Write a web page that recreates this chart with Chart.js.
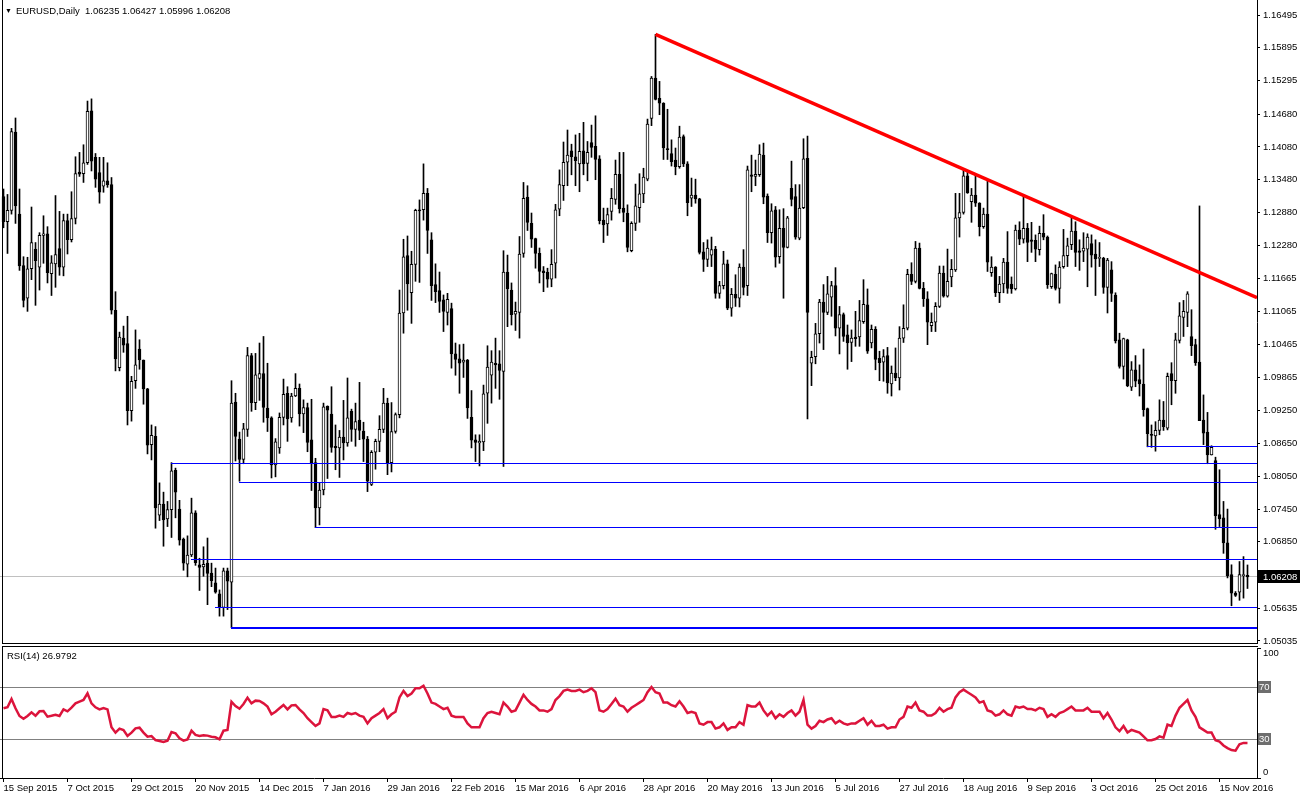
<!DOCTYPE html>
<html>
<head>
<meta charset="utf-8">
<script src="https://cdn.jsdelivr.net/npm/chart.js@4.4.0/dist/chart.umd.min.js"></script>
<style>
  body { margin: 0; background: #fff; width: 1300px; height: 800px; overflow: hidden; position: relative; }
  #mainBox { position: absolute; left: 0; top: 0; width: 1300px; height: 644px; }
  #rsiBox { position: absolute; left: 0; top: 645px; width: 1300px; height: 155px; }
  .label { position: absolute; font-family: 'Liberation Sans', Arial, sans-serif; font-size: 9.5px; color: #000; white-space: pre; }
  #title { left: 5px; top: 5px; }
  #title .tri { font-size: 7px; margin-right: 4px; position: relative; top: -1px; }
  #rsiTitle { left: 7px; top: 650px; }
</style>
</head>
<body>
<div id="mainBox"><canvas id="priceChart" width="1300" height="644"></canvas></div>
<div id="rsiBox"><canvas id="rsiChart" width="1300" height="155"></canvas></div>
<div id="title" class="label"><span class="tri">&#9660;</span>EURUSD,Daily  1.06235 1.06427 1.05996 1.06208</div>
<div id="rsiTitle" class="label">RSI(14) 26.9792</div>
<script>
// Daily EURUSD candles, 15 Sep 2015 .. 24 Nov 2016 (bar index = position)
const opens = [
  1.1317, 1.1271, 1.1292, 1.1435, 1.1285, 1.1191, 1.1131, 1.1185, 1.1221, 1.1188,
  1.1246, 1.1249, 1.1176, 1.1194, 1.1222, 1.1188, 1.1273, 1.1238, 1.1277, 1.1362,
  1.1359, 1.1379, 1.1474, 1.1389, 1.1361, 1.1336, 1.1346, 1.1339, 1.1109, 1.1004,
  1.1058, 1.1048, 1.0925, 1.0980, 1.1038, 1.1018, 1.0965, 1.0863, 1.0878, 1.0734,
  1.0754, 1.0727, 1.0744, 1.0816, 1.0745, 1.0690, 1.0644, 1.0661, 1.0738, 1.0643,
  1.0639, 1.0646, 1.0628, 1.0610, 1.0590, 1.0565, 1.0632, 1.0611, 1.0941, 1.0873,
  1.0836, 1.0891, 1.1026, 1.0940, 1.0984, 1.0993, 1.0930, 1.0912, 1.0826, 1.0857,
  1.0913, 1.0957, 1.0912, 1.0952, 1.0966, 1.0919, 1.0931, 1.0872, 1.0830, 1.0747,
  1.0780, 1.0933, 1.0919, 1.0860, 1.0857, 1.0877, 1.0866, 1.0924, 1.0891, 1.0908,
  1.0888, 1.0873, 1.0790, 1.0849, 1.0869, 1.0891, 1.0939, 1.0830, 1.0887, 1.0918,
  1.1104, 1.1209, 1.1141, 1.1193, 1.1293, 1.1293, 1.1323, 1.1238, 1.1156, 1.1145,
  1.1128, 1.1105, 1.1112, 1.1029, 1.1020, 1.1014, 1.1018, 1.0913, 1.0872, 1.0866,
  1.0868, 1.0957, 1.0990, 1.1012, 1.1011, 1.0997, 1.1179, 1.1146, 1.1102, 1.1105,
  1.1213, 1.1316, 1.1268, 1.1240, 1.1213, 1.1181, 1.1179, 1.1166, 1.1195, 1.1294,
  1.1337, 1.1380, 1.1401, 1.1390, 1.1377, 1.1401, 1.1378, 1.1416, 1.1409, 1.1386,
  1.1274, 1.1267, 1.1290, 1.1312, 1.1358, 1.1296, 1.1287, 1.1218, 1.1268, 1.1297,
  1.1322, 1.1349, 1.1460, 1.1534, 1.1497, 1.1488, 1.1404, 1.1396, 1.1384, 1.1372,
  1.1427, 1.1377, 1.1314, 1.1320, 1.1313, 1.1216, 1.1202, 1.1210, 1.1221, 1.1140,
  1.1154, 1.1194, 1.1113, 1.1138, 1.1131, 1.1188, 1.1154, 1.1357, 1.1354, 1.1357,
  1.1393, 1.1318, 1.1251, 1.1293, 1.1207, 1.1259, 1.1224, 1.1332, 1.1317, 1.1241,
  1.1297, 1.1387, 1.1012, 1.1024, 1.1066, 1.1124, 1.1105, 1.1133, 1.1154, 1.1076,
  1.1101, 1.1064, 1.1050, 1.1060, 1.1060, 1.1088, 1.1119, 1.1049, 1.1074, 1.1021,
  1.1014, 1.1026, 1.0974, 1.0994, 1.0985, 1.1058, 1.1076, 1.1175, 1.1162, 1.1223,
  1.1149, 1.1130, 1.1081, 1.1087, 1.1116, 1.1177, 1.1135, 1.1170, 1.1183, 1.1278,
  1.1288, 1.1355, 1.1308, 1.1320, 1.1305, 1.1262, 1.1285, 1.1178, 1.1188, 1.1141,
  1.1157, 1.1197, 1.1157, 1.1148, 1.1256, 1.1239, 1.1259, 1.1238, 1.1237, 1.1220,
  1.1250, 1.1243, 1.1152, 1.1175, 1.1149, 1.1189, 1.1209, 1.1229, 1.1254, 1.1218,
  1.1217, 1.1221, 1.1231, 1.1212, 1.1204, 1.1204, 1.1151, 1.1183, 1.1137, 1.1055,
  1.1006, 1.1055, 1.0968, 1.1000, 1.0982, 1.0974, 1.0929, 1.0881, 1.0879, 1.0889,
  1.0908, 1.0893, 1.0993, 1.0980, 1.1054, 1.1096, 1.1105, 1.1061, 1.1046, 1.1014,
  1.0908, 1.0886, 1.0844, 1.0834, 1.0735, 1.0729, 1.0683, 1.0625, 1.0591, 1.0593,
  1.0623, 1.06235
];
const highs = [
  1.1331, 1.1321, 1.1442, 1.1461, 1.1331, 1.1207, 1.1206, 1.1298, 1.1233, 1.1251,
  1.1282, 1.1262, 1.1209, 1.1319, 1.1290, 1.1285, 1.1285, 1.1326, 1.1390, 1.1398,
  1.1412, 1.1492, 1.1496, 1.1396, 1.1389, 1.1389, 1.1379, 1.1352, 1.1143, 1.1069,
  1.1080, 1.1098, 1.0988, 1.1073, 1.1055, 1.1018, 1.0966, 1.0899, 1.0896, 1.0793,
  1.0776, 1.0759, 1.0830, 1.0820, 1.0761, 1.0692, 1.0696, 1.0765, 1.0742, 1.0655,
  1.0676, 1.0692, 1.0646, 1.0637, 1.0597, 1.0637, 1.0637, 1.0980, 1.0957, 1.0886,
  1.0902, 1.1041, 1.1030, 1.1030, 1.1049, 1.1061, 1.1012, 1.0914, 1.0874, 1.0921,
  1.0983, 1.0969, 1.0957, 1.0993, 1.0974, 1.0945, 1.0939, 1.0946, 1.0838, 1.0794,
  1.0939, 1.0934, 1.0969, 1.0899, 1.0889, 1.0944, 1.0985, 1.0928, 1.0939, 1.0977,
  1.0904, 1.0878, 1.0852, 1.0873, 1.0916, 1.0966, 1.0948, 1.0940, 1.0921, 1.1146,
  1.1239, 1.1245, 1.1217, 1.1294, 1.1311, 1.1377, 1.1332, 1.1251, 1.1194, 1.1179,
  1.1137, 1.1140, 1.1122, 1.1049, 1.1046, 1.1047, 1.1019, 1.0962, 1.0881, 1.0881,
  1.0972, 1.1044, 1.1035, 1.1058, 1.1035, 1.1218, 1.1210, 1.1159, 1.1124, 1.1244,
  1.1343, 1.1337, 1.1287, 1.1241, 1.1223, 1.1189, 1.1186, 1.1220, 1.1303, 1.1366,
  1.1417, 1.1439, 1.1413, 1.1430, 1.1433, 1.1453, 1.1418, 1.1448, 1.1465, 1.1392,
  1.1296, 1.1296, 1.1332, 1.1384, 1.1398, 1.1398, 1.1302, 1.1271, 1.1340, 1.1359,
  1.1369, 1.1459, 1.1537, 1.1614, 1.1528, 1.1489, 1.1477, 1.1421, 1.1406, 1.1446,
  1.1430, 1.1381, 1.1351, 1.1349, 1.1314, 1.1233, 1.1238, 1.1243, 1.1226, 1.1162,
  1.1217, 1.1201, 1.1149, 1.1174, 1.1194, 1.1220, 1.1373, 1.1393, 1.1384, 1.1412,
  1.1415, 1.1322, 1.1304, 1.1299, 1.1293, 1.1295, 1.1281, 1.1382, 1.1339, 1.1339,
  1.1423, 1.1428, 1.1034, 1.1085, 1.1129, 1.1156, 1.1171, 1.1162, 1.1187, 1.1116,
  1.1104, 1.1082, 1.1073, 1.1107, 1.1127, 1.1165, 1.1148, 1.1082, 1.1079, 1.1034,
  1.1037, 1.1041, 1.1007, 1.1040, 1.1079, 1.1119, 1.1184, 1.1196, 1.1235, 1.1232,
  1.1160, 1.1143, 1.1104, 1.1123, 1.1190, 1.1190, 1.1221, 1.1202, 1.1323, 1.1323,
  1.1366, 1.1363, 1.1332, 1.1357, 1.1306, 1.1296, 1.1346, 1.1207, 1.1189, 1.1171,
  1.1204, 1.1253, 1.1170, 1.1265, 1.1271, 1.1320, 1.1268, 1.1270, 1.1247, 1.1263,
  1.1284, 1.1245, 1.1177, 1.1192, 1.1198, 1.1257, 1.1241, 1.1278, 1.1271, 1.1238,
  1.1251, 1.1249, 1.1247, 1.1238, 1.1233, 1.1206, 1.1204, 1.1198, 1.1141, 1.1067,
  1.1058, 1.1056, 1.1015, 1.1026, 1.1009, 1.1038, 1.0930, 1.0899, 1.0905, 1.0945,
  1.0942, 1.0994, 1.1013, 1.1067, 1.1123, 1.1127, 1.1143, 1.1110, 1.1056, 1.1300,
  1.0954, 1.0922, 1.0861, 1.0840, 1.0817, 1.0759, 1.0745, 1.0643, 1.0594, 1.0649,
  1.0658, 1.06427
];
const lows = [
  1.1260, 1.1213, 1.1285, 1.1268, 1.1182, 1.1115, 1.1107, 1.1165, 1.1118, 1.1146,
  1.1195, 1.1159, 1.1136, 1.1151, 1.1173, 1.1172, 1.1212, 1.1234, 1.1267, 1.1354,
  1.1343, 1.1376, 1.1364, 1.1334, 1.1305, 1.1325, 1.1334, 1.1102, 1.0998, 1.0998,
  1.1032, 1.0899, 1.0906, 1.0966, 1.1001, 1.0937, 1.0846, 1.0835, 1.0710, 1.0724,
  1.0677, 1.0713, 1.0693, 1.0729, 1.0679, 1.0633, 1.0621, 1.0658, 1.0642, 1.0596,
  1.0622, 1.0570, 1.0603, 1.0591, 1.0549, 1.0549, 1.0561, 1.0528, 1.0833, 1.0796,
  1.0828, 1.0878, 1.0924, 1.0927, 1.0944, 1.0904, 1.0887, 1.0802, 1.0804, 1.0847,
  1.0899, 1.0869, 1.0904, 1.0951, 1.0897, 1.0885, 1.0850, 1.0779, 1.0711, 1.0716,
  1.0771, 1.0801, 1.0849, 1.0817, 1.0803, 1.0835, 1.0860, 1.0869, 1.0860, 1.0872,
  1.0832, 1.0777, 1.0788, 1.0818, 1.0850, 1.0885, 1.0808, 1.0813, 1.0884, 1.0912,
  1.1067, 1.1109, 1.1085, 1.1162, 1.1160, 1.1274, 1.1213, 1.1127, 1.1123, 1.1105,
  1.1070, 1.1082, 1.1003, 1.0990, 1.0957, 1.0986, 1.0911, 1.0857, 1.0832, 1.0824,
  1.0852, 1.0902, 1.0939, 1.0966, 1.0946, 1.0823, 1.1079, 1.1082, 1.1072, 1.1058,
  1.1206, 1.1255, 1.1224, 1.1186, 1.1159, 1.1143, 1.1151, 1.1152, 1.1168, 1.1282,
  1.1310, 1.1337, 1.1357, 1.1337, 1.1326, 1.1357, 1.1346, 1.1389, 1.1348, 1.1267,
  1.1233, 1.1246, 1.1274, 1.1303, 1.1287, 1.1271, 1.1216, 1.1216, 1.1255, 1.1270,
  1.1306, 1.1346, 1.1447, 1.1494, 1.1467, 1.1385, 1.1385, 1.1373, 1.1357, 1.1369,
  1.1372, 1.1282, 1.1299, 1.1305, 1.1212, 1.1180, 1.1189, 1.1189, 1.1131, 1.1131,
  1.1148, 1.1110, 1.1098, 1.1116, 1.1115, 1.1137, 1.1136, 1.1326, 1.1337, 1.1354,
  1.1304, 1.1233, 1.1232, 1.1188, 1.1195, 1.1131, 1.1223, 1.1300, 1.1239, 1.1238,
  1.1295, 1.0910, 1.0971, 1.1011, 1.1049, 1.1037, 1.1101, 1.1098, 1.1062, 1.1029,
  1.1052, 1.1001, 1.1015, 1.1043, 1.1043, 1.1085, 1.1030, 1.1040, 1.1000, 1.0980,
  1.0979, 1.0957, 1.0952, 1.0980, 1.0963, 1.1050, 1.1073, 1.1156, 1.1159, 1.1148,
  1.1116, 1.1046, 1.1070, 1.1070, 1.1114, 1.1133, 1.1133, 1.1152, 1.1180, 1.1243,
  1.1285, 1.1323, 1.1270, 1.1299, 1.1245, 1.1259, 1.1180, 1.1171, 1.1134, 1.1123,
  1.1141, 1.1140, 1.1140, 1.1146, 1.1229, 1.1232, 1.1198, 1.1215, 1.1198, 1.1210,
  1.1238, 1.1149, 1.1149, 1.1146, 1.1122, 1.1186, 1.1189, 1.1220, 1.1189, 1.1182,
  1.1198, 1.1152, 1.1188, 1.1136, 1.1189, 1.1140, 1.1104, 1.1125, 1.1049, 1.1003,
  1.0983, 1.0969, 1.0962, 1.0969, 1.0952, 1.0915, 1.0859, 1.0858, 1.0851, 1.0881,
  1.0889, 1.0890, 1.0936, 1.0957, 1.1049, 1.1061, 1.1079, 1.1026, 1.1008, 1.0907,
  1.0863, 1.0828, 1.0844, 1.0708, 1.0713, 1.0664, 1.0619, 1.0568, 1.0585, 1.0578,
  1.0582, 1.05996
];
const closes = [
  1.1271, 1.1292, 1.1436, 1.1300, 1.1190, 1.1127, 1.1185, 1.1233, 1.1200, 1.1246,
  1.1249, 1.1178, 1.1196, 1.1211, 1.1188, 1.1273, 1.1238, 1.1277, 1.1359, 1.1358,
  1.1379, 1.1473, 1.1382, 1.1349, 1.1325, 1.1346, 1.1339, 1.1109, 1.1020, 1.1060,
  1.1045, 1.0925, 1.0979, 1.1009, 1.1018, 1.0965, 1.0862, 1.0880, 1.0747, 1.0754,
  1.0725, 1.0744, 1.0815, 1.0776, 1.0688, 1.0646, 1.0661, 1.0738, 1.0647, 1.0638,
  1.0644, 1.0627, 1.0614, 1.0593, 1.0565, 1.0632, 1.0613, 1.0939, 1.0878, 1.0836,
  1.0892, 1.1026, 1.0940, 1.0991, 1.0993, 1.0931, 1.0912, 1.0826, 1.0868, 1.0913,
  1.0955, 1.0910, 1.0952, 1.0966, 1.0919, 1.0931, 1.0867, 1.0830, 1.0747, 1.0780,
  1.0932, 1.0926, 1.0858, 1.0857, 1.0877, 1.0866, 1.0912, 1.0891, 1.0905, 1.0889,
  1.0873, 1.0796, 1.0849, 1.0869, 1.0891, 1.0939, 1.0830, 1.0887, 1.0918, 1.1104,
  1.1207, 1.1157, 1.1193, 1.1292, 1.1291, 1.1323, 1.1255, 1.1154, 1.1143, 1.1125,
  1.1107, 1.1129, 1.1029, 1.1019, 1.1012, 1.1018, 1.0930, 1.0871, 1.0867, 1.0869,
  1.0956, 1.1005, 1.1014, 1.1009, 1.0999, 1.1179, 1.1148, 1.1101, 1.1107, 1.1212,
  1.1314, 1.1270, 1.1239, 1.1213, 1.1180, 1.1178, 1.1166, 1.1193, 1.1293, 1.1339,
  1.1380, 1.1393, 1.1390, 1.1383, 1.1400, 1.1377, 1.1398, 1.1407, 1.1385, 1.1273,
  1.1265, 1.1284, 1.1314, 1.1358, 1.1295, 1.1288, 1.1224, 1.1268, 1.1300, 1.1322,
  1.1353, 1.1450, 1.1534, 1.1495, 1.1488, 1.1406, 1.1403, 1.1381, 1.1372, 1.1426,
  1.1377, 1.1306, 1.1320, 1.1313, 1.1215, 1.1202, 1.1223, 1.1220, 1.1140, 1.1154,
  1.1194, 1.1113, 1.1138, 1.1131, 1.1188, 1.1151, 1.1366, 1.1354, 1.1358, 1.1395,
  1.1316, 1.1251, 1.1291, 1.1206, 1.1259, 1.1224, 1.1278, 1.1312, 1.1243, 1.1296,
  1.1386, 1.1105, 1.1023, 1.1066, 1.1124, 1.1105, 1.1139, 1.1154, 1.1076, 1.1101,
  1.1061, 1.1049, 1.1058, 1.1057, 1.1090, 1.1120, 1.1034, 1.1074, 1.1019, 1.1013,
  1.1024, 1.0976, 1.0994, 1.0985, 1.1058, 1.1076, 1.1175, 1.1162, 1.1223, 1.1149,
  1.1130, 1.1087, 1.1087, 1.1116, 1.1177, 1.1135, 1.1162, 1.1184, 1.1278, 1.1288,
  1.1355, 1.1324, 1.1320, 1.1305, 1.1262, 1.1285, 1.1197, 1.1188, 1.1141, 1.1157,
  1.1197, 1.1149, 1.1148, 1.1256, 1.1239, 1.1259, 1.1233, 1.1235, 1.1221, 1.1250,
  1.1243, 1.1156, 1.1176, 1.1149, 1.1188, 1.1209, 1.1227, 1.1254, 1.1215, 1.1215,
  1.1223, 1.1243, 1.1210, 1.1203, 1.1204, 1.1151, 1.1201, 1.1140, 1.1053, 1.1006,
  1.1057, 1.0971, 1.1000, 1.0979, 1.0974, 1.0927, 1.0883, 1.0880, 1.0889, 1.0908,
  1.0896, 1.0988, 1.0980, 1.1055, 1.1099, 1.1107, 1.1139, 1.1044, 1.1013, 1.0907,
  1.0884, 1.0844, 1.0858, 1.0733, 1.0727, 1.0683, 1.0623, 1.0591, 1.0587, 1.0625,
  1.0625, 1.06208
];
// RSI(14)
const rsiValues = [
  53.6, 54.4, 60.8, 53.6, 47.7, 45.6, 47.7, 50.5, 47.9, 51.3,
  51.5, 47.2, 47.9, 48.7, 47.7, 52.8, 51.3, 54.1, 57.4, 58.7,
  60.0, 65.1, 57.4, 54.4, 52.8, 53.8, 52.8, 39.0, 34.9, 38.0,
  36.9, 32.3, 34.9, 38.2, 38.7, 34.9, 31.8, 32.3, 29.2, 28.5,
  27.7, 28.7, 35.4, 34.4, 30.5, 28.7, 29.7, 36.4, 33.1, 32.3,
  32.8, 32.6, 31.8, 31.3, 29.7, 36.4, 36.9, 58.7, 55.4, 53.3,
  56.9, 61.8, 57.4, 59.5, 59.2, 57.4, 54.9, 49.0, 51.0, 53.6,
  56.2, 52.8, 55.9, 56.2, 52.8, 50, 46, 43, 40, 42,
  53, 52, 47, 47, 48, 47, 50, 49, 50, 48,
  47, 42, 46, 48, 50, 53, 46, 49, 51, 62,
  67, 63, 65, 69, 69, 71, 65, 58, 57, 55,
  53, 54, 48, 47, 47, 47, 42, 39, 39, 39,
  46, 50, 51, 50, 49, 58, 55, 51, 52, 58,
  64, 60, 57, 55, 52, 52, 51, 53, 60, 63,
  67, 68, 67, 67, 68, 66, 67, 69, 66, 52,
  51, 53, 57, 61, 56, 55, 51, 54, 56, 58,
  60, 66, 70, 66, 65, 58, 58, 56, 55, 59,
  55, 50, 51, 50, 42, 41, 43, 43, 38, 39,
  42, 37, 39, 39, 43, 41, 56, 55, 55, 58,
  52, 48, 51, 46, 49, 47, 50, 52, 48, 51,
  60, 41, 38, 40, 44, 43, 45, 46, 42, 44,
  42, 41, 42, 42, 44, 46, 41, 44, 40, 40,
  41, 38, 39, 39, 45, 47, 55, 54, 58, 52,
  51, 48, 48, 50, 54, 51, 53, 54, 62, 66,
  68, 66, 64, 62, 58, 59, 52, 51, 48, 49,
  52, 49, 48, 55, 54, 55, 53, 53, 52, 54,
  53, 47, 49, 47, 50, 51, 53, 55, 52, 52,
  52, 54, 51, 51, 51, 46, 50, 45, 39, 36,
  40, 35, 37, 36, 35, 32, 29, 29, 30, 32,
  31, 41, 40, 48, 54, 57, 60, 52, 47, 39,
  37, 35, 35, 29, 28, 25, 23, 21.5, 21, 26,
  27, 26.98
];

const dateTickBars = [0, 16, 32, 48, 64, 80, 96, 112, 128, 144, 160, 176, 192, 208, 224, 240, 256, 272, 288, 304];
const dateLabels = ['15 Sep 2015', '7 Oct 2015', '29 Oct 2015', '20 Nov 2015', '14 Dec 2015', '7 Jan 2016', '29 Jan 2016',
  '22 Feb 2016', '15 Mar 2016', '6 Apr 2016', '28 Apr 2016', '20 May 2016', '13 Jun 2016', '5 Jul 2016', '27 Jul 2016',
  '18 Aug 2016', '9 Sep 2016', '3 Oct 2016', '25 Oct 2016', '15 Nov 2016'];
const priceTicks = [1.16495, 1.15895, 1.15295, 1.14680, 1.14080, 1.13480, 1.12880, 1.12280, 1.11665, 1.11065,
  1.10465, 1.09865, 1.09250, 1.08650, 1.08050, 1.07450, 1.06850, 1.05635, 1.05035];
const lastPrice = 1.06208;

// drawn objects: horizontal support levels (price, first bar, width) and the falling trendline
const levelPrices = [1.0859, 1.0829, 1.0793, 1.0711, 1.0653, 1.0564, 1.0528];
const levelStartBars = [286, 42, 59, 78, 47, 53, 57];
const levelWidths = [1, 1, 1, 1, 1, 1, 2];
const trendBars = [163, 270];
const trendPrices = [1.1614, 1.1271];
const rsiLevels = [70, 30];

const FONT = { family: "'Liberation Sans', Arial, sans-serif", size: 9.5 };
const X_MIN = -0.875, X_MAX = 313.375;

// ---------- price panel ----------
const wickData = highs.map((h, i) => ({ x: i, y: [lows[i], h] }));
const bodyData = opens.map((o, i) => ({ x: i, y: [o, closes[i]] }));
const bodyColors = opens.map((o, i) => closes[i] >= o ? '#ffffff' : '#000000');

// crisp horizontal line as a filled row of pixels
function hLine(ctx, x1, x2, y, w, color) {
  ctx.fillStyle = color;
  ctx.fillRect(Math.round(x1), Math.round(y - w / 2), Math.round(x2 - x1), w);
}

const priceOverlay = {
  id: 'priceOverlay',
  beforeDatasetsDraw(chart) {
    const { ctx, chartArea, scales } = chart;
    ctx.save();
    hLine(ctx, chartArea.left, chartArea.right, scales.y.getPixelForValue(lastPrice), 1, '#c0c0c0');
    ctx.restore();
  },
  afterDatasetsDraw(chart) {
    const { ctx, chartArea, scales } = chart;
    const xs = scales.x, ys = scales.y;
    ctx.save();
    ctx.beginPath();
    ctx.rect(chartArea.left, chartArea.top, chartArea.right - chartArea.left, chartArea.bottom - chartArea.top);
    ctx.clip();
    // support levels
    levelPrices.forEach((p, k) => {
      hLine(ctx, xs.getPixelForValue(levelStartBars[k]) - 0.5, chartArea.right, ys.getPixelForValue(p), levelWidths[k], '#0000ff');
    });
    // trendline ray
    const x1 = xs.getPixelForValue(trendBars[0]), y1 = ys.getPixelForValue(trendPrices[0]);
    const x2 = xs.getPixelForValue(trendBars[1]), y2 = ys.getPixelForValue(trendPrices[1]);
    const slope = (y2 - y1) / (x2 - x1);
    ctx.strokeStyle = '#ff0000';
    ctx.lineWidth = 3.5;
    ctx.beginPath();
    ctx.moveTo(x1, y1);
    ctx.lineTo(chartArea.right, y1 + slope * (chartArea.right - x1));
    ctx.stroke();
    ctx.restore();
  },
  afterDraw(chart) {
    const { ctx, chartArea, scales } = chart;
    ctx.save();
    ctx.fillStyle = '#000';
    ctx.fillRect(2, 0, 1, chartArea.bottom);
    ctx.fillRect(2, chartArea.bottom - 1, chartArea.right - 1, 1);
    // last price tag
    const y = Math.round(scales.y.getPixelForValue(lastPrice));
    ctx.fillRect(chartArea.right + 1, y - 7, 42, 13);
    ctx.fillStyle = '#fff';
    ctx.font = `${FONT.size}px ${FONT.family}`;
    ctx.textBaseline = 'middle';
    ctx.fillText(lastPrice.toFixed(5), chartArea.right + 6, y);
    ctx.restore();
  }
};

new Chart(document.getElementById('priceChart'), {
  type: 'bar',
  data: {
    datasets: [
      { data: wickData, backgroundColor: '#000000', barThickness: 1, grouped: false, order: 2 },
      { data: bodyData, backgroundColor: bodyColors, borderColor: '#000000', borderWidth: 1,
        borderSkipped: false, barThickness: 3, minBarLength: 1, grouped: false, order: 1 }
    ]
  },
  options: {
    responsive: false,
    animation: false,
    events: [],
    layout: { padding: 0 },
    plugins: { legend: { display: false }, tooltip: { enabled: false } },
    scales: {
      x: { type: 'linear', min: X_MIN, max: X_MAX, offset: false, display: false, grid: { offset: false } },
      y: {
        position: 'right', min: 1.0498, max: 1.1677,
        afterBuildTicks: s => { s.ticks = priceTicks.map(v => ({ value: v })); },
        afterFit: s => { s.width = 43; s.paddingTop = 0; s.paddingBottom = 0; },
        ticks: { font: FONT, color: '#000', padding: 3, callback: v => v.toFixed(5) },
        grid: { drawOnChartArea: false, drawTicks: true, tickLength: 3, color: '#000' },
        border: { display: true, color: '#000' }
      }
    }
  },
  plugins: [priceOverlay]
});

// ---------- RSI panel ----------
const rsiOverlay = {
  id: 'rsiOverlay',
  beforeDatasetsDraw(chart) {
    const { ctx, chartArea, scales } = chart;
    ctx.save();
    rsiLevels.forEach(v => hLine(ctx, chartArea.left, chartArea.right, scales.y.getPixelForValue(v), 1, '#808080'));
    ctx.restore();
  },
  afterDraw(chart) {
    const { ctx, chartArea, scales } = chart;
    const ys = scales.y;
    ctx.save();
    ctx.fillStyle = '#000';
    ctx.fillRect(2, 1, 1, chartArea.bottom);
    ctx.fillRect(2, 1, chartArea.right - 1, 1);
    [0, 100].forEach(v => ctx.fillRect(chartArea.right, Math.round(ys.getPixelForValue(v)), 4, 1));
    ctx.font = `${FONT.size}px ${FONT.family}`;
    ctx.textBaseline = 'middle';
    ctx.fillText('100', chartArea.right + 6, ys.getPixelForValue(100) + 5);
    ctx.fillText('0', chartArea.right + 6, ys.getPixelForValue(0) - 6);
    rsiLevels.forEach(v => {
      const y = Math.round(ys.getPixelForValue(v));
      ctx.fillStyle = '#6e6e6e';
      ctx.fillRect(chartArea.right + 1, y - 6, 13, 12);
      ctx.fillStyle = '#fff';
      ctx.fillText(String(v), chartArea.right + 2, y);
    });
    ctx.restore();
  }
};

new Chart(document.getElementById('rsiChart'), {
  type: 'line',
  data: {
    datasets: [{
      data: rsiValues.map((v, i) => ({ x: i, y: v })),
      borderColor: '#dc143c', borderWidth: 2.5, pointRadius: 0, tension: 0, fill: false
    }]
  },
  options: {
    responsive: false,
    animation: false,
    events: [],
    layout: { padding: { top: 3 } },
    plugins: { legend: { display: false }, tooltip: { enabled: false } },
    scales: {
      x: {
        type: 'linear', min: X_MIN, max: X_MAX, offset: false, position: 'bottom',
        afterBuildTicks: s => { s.ticks = dateTickBars.map(v => ({ value: v })); },
        afterFit: s => { s.height = 22; s.paddingLeft = 0; s.paddingRight = 0; },
        ticks: { font: FONT, color: '#000', padding: 1, align: 'start', autoSkip: false, maxRotation: 0,
          callback: (v, idx) => dateLabels[idx] },
        grid: { drawOnChartArea: false, drawTicks: true, tickLength: 4, color: '#000' },
        border: { display: true, color: '#000' }
      },
      y: {
        position: 'right', min: 0, max: 100,
        afterFit: s => { s.width = 43; s.paddingTop = 0; s.paddingBottom = 0; },
        ticks: { display: false },
        grid: { drawOnChartArea: false, drawTicks: false },
        border: { display: true, color: '#000' }
      }
    }
  },
  plugins: [rsiOverlay]
});
</script>
</body>
</html>
